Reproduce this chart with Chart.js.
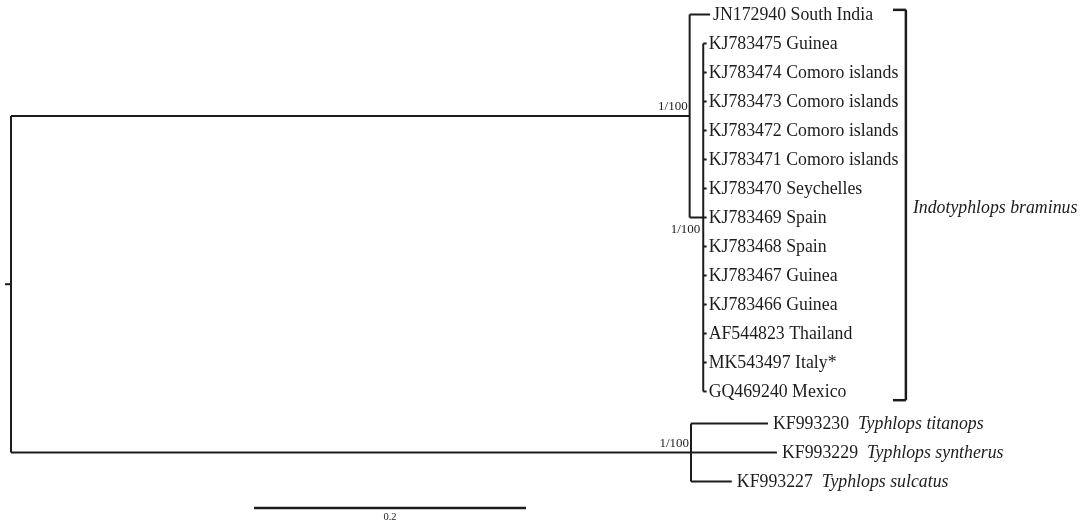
<!DOCTYPE html>
<html><head><meta charset="utf-8">
<script src="https://cdn.jsdelivr.net/npm/chart.js@4"></script>
<style>html,body{margin:0;padding:0;background:#fff;}canvas{display:block;}</style>
</head><body>
<canvas id="c" width="1088" height="521"></canvas>
<script>
// ---- data read from the tree ----
const taxa = ['JN172940 South India','KJ783475 Guinea','KJ783474 Comoro islands','KJ783473 Comoro islands','KJ783472 Comoro islands','KJ783471 Comoro islands','KJ783470 Seychelles','KJ783469 Spain','KJ783468 Spain','KJ783467 Guinea','KJ783466 Guinea','AF544823 Thailand','MK543497 Italy*','GQ469240 Mexico'];
const outAcc = ['KF993230','KF993229','KF993227'];
const outSpecies = ['Typhlops titanops','Typhlops syntherus','Typhlops sulcatus'];
const tipRows = [0,1,2,3,4,5,6,7,8,9,10,11,12,13];
const outRows = [14.1,15.1,16.1];
const tipDepths = [0.514,0.5115,0.5115,0.5115,0.5115,0.5115,0.5115,0.5115,0.5115,0.5115,0.5115,0.5115,0.5115,0.5115];
const outDepths = [0.5566,0.5632,0.530];
const nodeDepths = {root:0, cladeA:0.499, sub:0.509, typh:0.500};
const supports = ['1/100','1/100','1/100'];
const cladeName = 'Indotyphlops braminus';
const scaleBar = {start:0.1787, length:0.2, label:'0.2'};

// ---- build segments ----
const segs = [];
const seg = (x1,y1,x2,y2,w)=>segs.push({pts:[{x:x1,y:y1},{x:x2,y:y2}],w:w||2});
const subRow = (tipRows[1]+tipRows[13])/2;
const aRow = (tipRows[0]+subRow)/2;
const tRow = outRows[1];
const rootRow = (aRow+tRow)/2;
seg(-0.0044,rootRow,nodeDepths.root,rootRow);
seg(nodeDepths.root,aRow,nodeDepths.root,tRow);
seg(nodeDepths.root,aRow,nodeDepths.cladeA,aRow);
seg(nodeDepths.root,tRow,nodeDepths.typh,tRow);
seg(nodeDepths.cladeA,tipRows[0],nodeDepths.cladeA,subRow);
seg(nodeDepths.cladeA,tipRows[0],tipDepths[0],tipRows[0]);
seg(nodeDepths.cladeA,subRow,nodeDepths.sub,subRow);
seg(nodeDepths.sub,tipRows[1],nodeDepths.sub,tipRows[13]);
for(let i=1;i<taxa.length;i++) seg(nodeDepths.sub,tipRows[i],tipDepths[i],tipRows[i]);
seg(nodeDepths.typh,outRows[0],nodeDepths.typh,outRows[2]);
for(let i=0;i<outAcc.length;i++) seg(nodeDepths.typh,outRows[i],outDepths[i],outRows[i]);
// bracket
const bx = 0.6580, bx0 = 0.6485;
seg(bx0,-0.16,bx,-0.16,2.5); seg(bx,-0.16,bx,13.3,2.5); seg(bx0,13.3,bx,13.3,2.5);
// scale bar
seg(scaleBar.start,17.02,scaleBar.start+scaleBar.length,17.02,2.5);

const datasets = segs.map(s=>({data:s.pts,showLine:true,borderColor:'#1c1c1c',borderWidth:s.w,pointRadius:0,borderCapStyle:'butt',fill:false}));

const F = 17.8;
const labelPlugin = {
  id:'labels',
  afterDatasetsDraw(chart){
    const {ctx,scales:{x,y}} = chart;
    ctx.save();
    ctx.fillStyle = '#1c1c1c';
    ctx.textBaseline = 'middle';
    ctx.textAlign = 'left';
    ctx.font = F+'px "Liberation Serif"';
    for(let i=0;i<taxa.length;i++){
      ctx.fillText(taxa[i], x.getPixelForValue(tipDepths[i])+(i===0?3:2), y.getPixelForValue(tipRows[i])+1);
    }
    for(let i=0;i<outAcc.length;i++){
      const px = x.getPixelForValue(outDepths[i])+5, py = y.getPixelForValue(outRows[i])+1;
      ctx.font = F+'px "Liberation Serif"';
      ctx.fillText(outAcc[i], px, py);
      const w = ctx.measureText(outAcc[i]).width;
      ctx.font = 'italic '+F+'px "Liberation Serif"';
      ctx.fillText(outSpecies[i], px+w+9, py);
    }
    ctx.font = 'italic '+F+'px "Liberation Serif"';
    ctx.fillText(cladeName, x.getPixelForValue(bx)+7, y.getPixelForValue(6.7));
    ctx.font = '13px "Liberation Serif"';
    ctx.textAlign = 'right';
    ctx.fillText(supports[0], x.getPixelForValue(nodeDepths.cladeA)-2, y.getPixelForValue(aRow)-9);
    ctx.fillText(supports[1], x.getPixelForValue(nodeDepths.sub)-3, y.getPixelForValue(subRow)+12);
    ctx.fillText(supports[2], x.getPixelForValue(nodeDepths.typh)-2, y.getPixelForValue(tRow)-9);
    ctx.textAlign = 'center';
    ctx.font = '10.5px "Liberation Serif"';
    ctx.fillText(scaleBar.label, x.getPixelForValue(scaleBar.start+scaleBar.length/2), y.getPixelForValue(17.33));
    ctx.restore();
  }
};

new Chart(document.getElementById('c'),{
  type:'scatter',
  data:{datasets},
  options:{
    responsive:false, animation:false, devicePixelRatio:1,
    layout:{padding:0},
    plugins:{legend:{display:false},tooltip:{enabled:false}},
    scales:{
      x:{type:'linear',display:false,min:-11/1360,max:1088/1360-11/1360},
      y:{type:'linear',display:false,reverse:true,min:-0.5,max:521/29-0.5}
    }
  },
  plugins:[labelPlugin]
});
</script>
</body></html>
